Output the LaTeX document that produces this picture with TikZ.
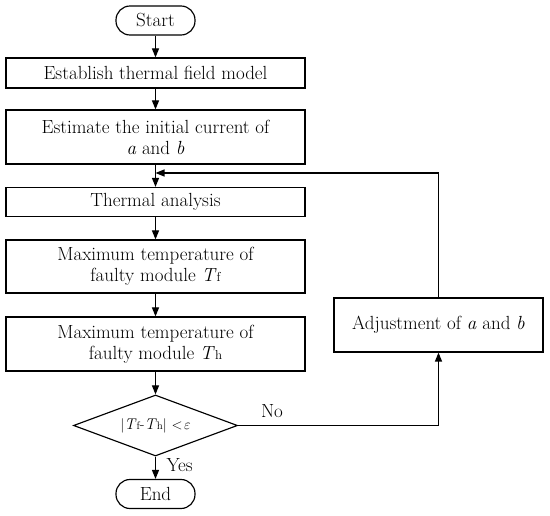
\documentclass[tikz,border=0pt]{standalone}
\usetikzlibrary{shapes.geometric,arrows.meta}
\begin{document}
\begin{tikzpicture}[x=1pt,y=-1pt,
  every node/.style={font=\fontsize{19}{21}\selectfont},
  proc/.style={draw,line width=1.15pt,minimum width=299pt,inner sep=0pt,align=center},
  term/.style={draw,line width=1.15pt,rounded corners=14pt,minimum width=79pt,minimum height=29pt,inner sep=0pt},
  dec/.style={draw,line width=1.15pt,diamond,aspect=2.7,minimum width=164pt,minimum height=61pt,inner sep=0pt},
  arr/.style={line width=1.15pt,-{Triangle[length=9pt,width=7pt]}}]
\useasboundingbox (0,0) rectangle (550,516);
\node[term] (start) at (155.5,20.5) {Start};
\node[proc,minimum height=30pt] (b1) at (155.5,73) {Establish thermal field model};
\node[proc,minimum height=54pt] (b2) at (155.5,137) {Estimate the initial current of\\ \textit{a} and \textit{b}};
\node[proc,minimum height=29pt] (b3) at (155.5,202) {Thermal analysis};
\node[proc,minimum height=53pt] (b4) at (155.5,266.5) {Maximum temperature of\\ faulty module \textit{T}{\fontsize{13}{14}\selectfont f}};
\node[proc,minimum height=54pt] (b5) at (155.5,344) {Maximum temperature of\\ faulty module \textit{T}{\fontsize{13}{14}\selectfont h}};
\node[dec] (d) at (155.5,425.5) {\fontsize{15.5}{17}\selectfont $|$\textit{T}{\fontsize{11}{12}\selectfont f}-\textit{T}{\fontsize{11}{12}\selectfont h}$|$ $<\!\varepsilon$};
\node[term] (end) at (155.5,494) {End};
\node[draw,line width=1.15pt,minimum width=209pt,minimum height=54pt,inner sep=0pt] (adj) at (438.5,325) {Adjustment of \textit{a} and \textit{b}};
\coordinate (j) at (155.5,173);
\coordinate (c1) at (438.5,425.5);
\coordinate (c2) at (438.5,173);
\draw[arr] (start) -- (b1);
\draw[arr] (b1) -- (b2);
\draw[arr] (b2) -- (b3);
\draw[arr] (b3) -- (b4);
\draw[arr] (b4) -- (b5);
\draw[arr] (b5) -- (d);
\draw[arr] (d) -- (end);
\draw[arr] (d.east) -- (c1) -- (adj.south);
\draw[arr] (adj.north) -- (c2) -- (j);
\node[anchor=west] (yes) at (163,465) {Yes};
\node (no) at (272,411) {No};
\end{tikzpicture}
\end{document}
